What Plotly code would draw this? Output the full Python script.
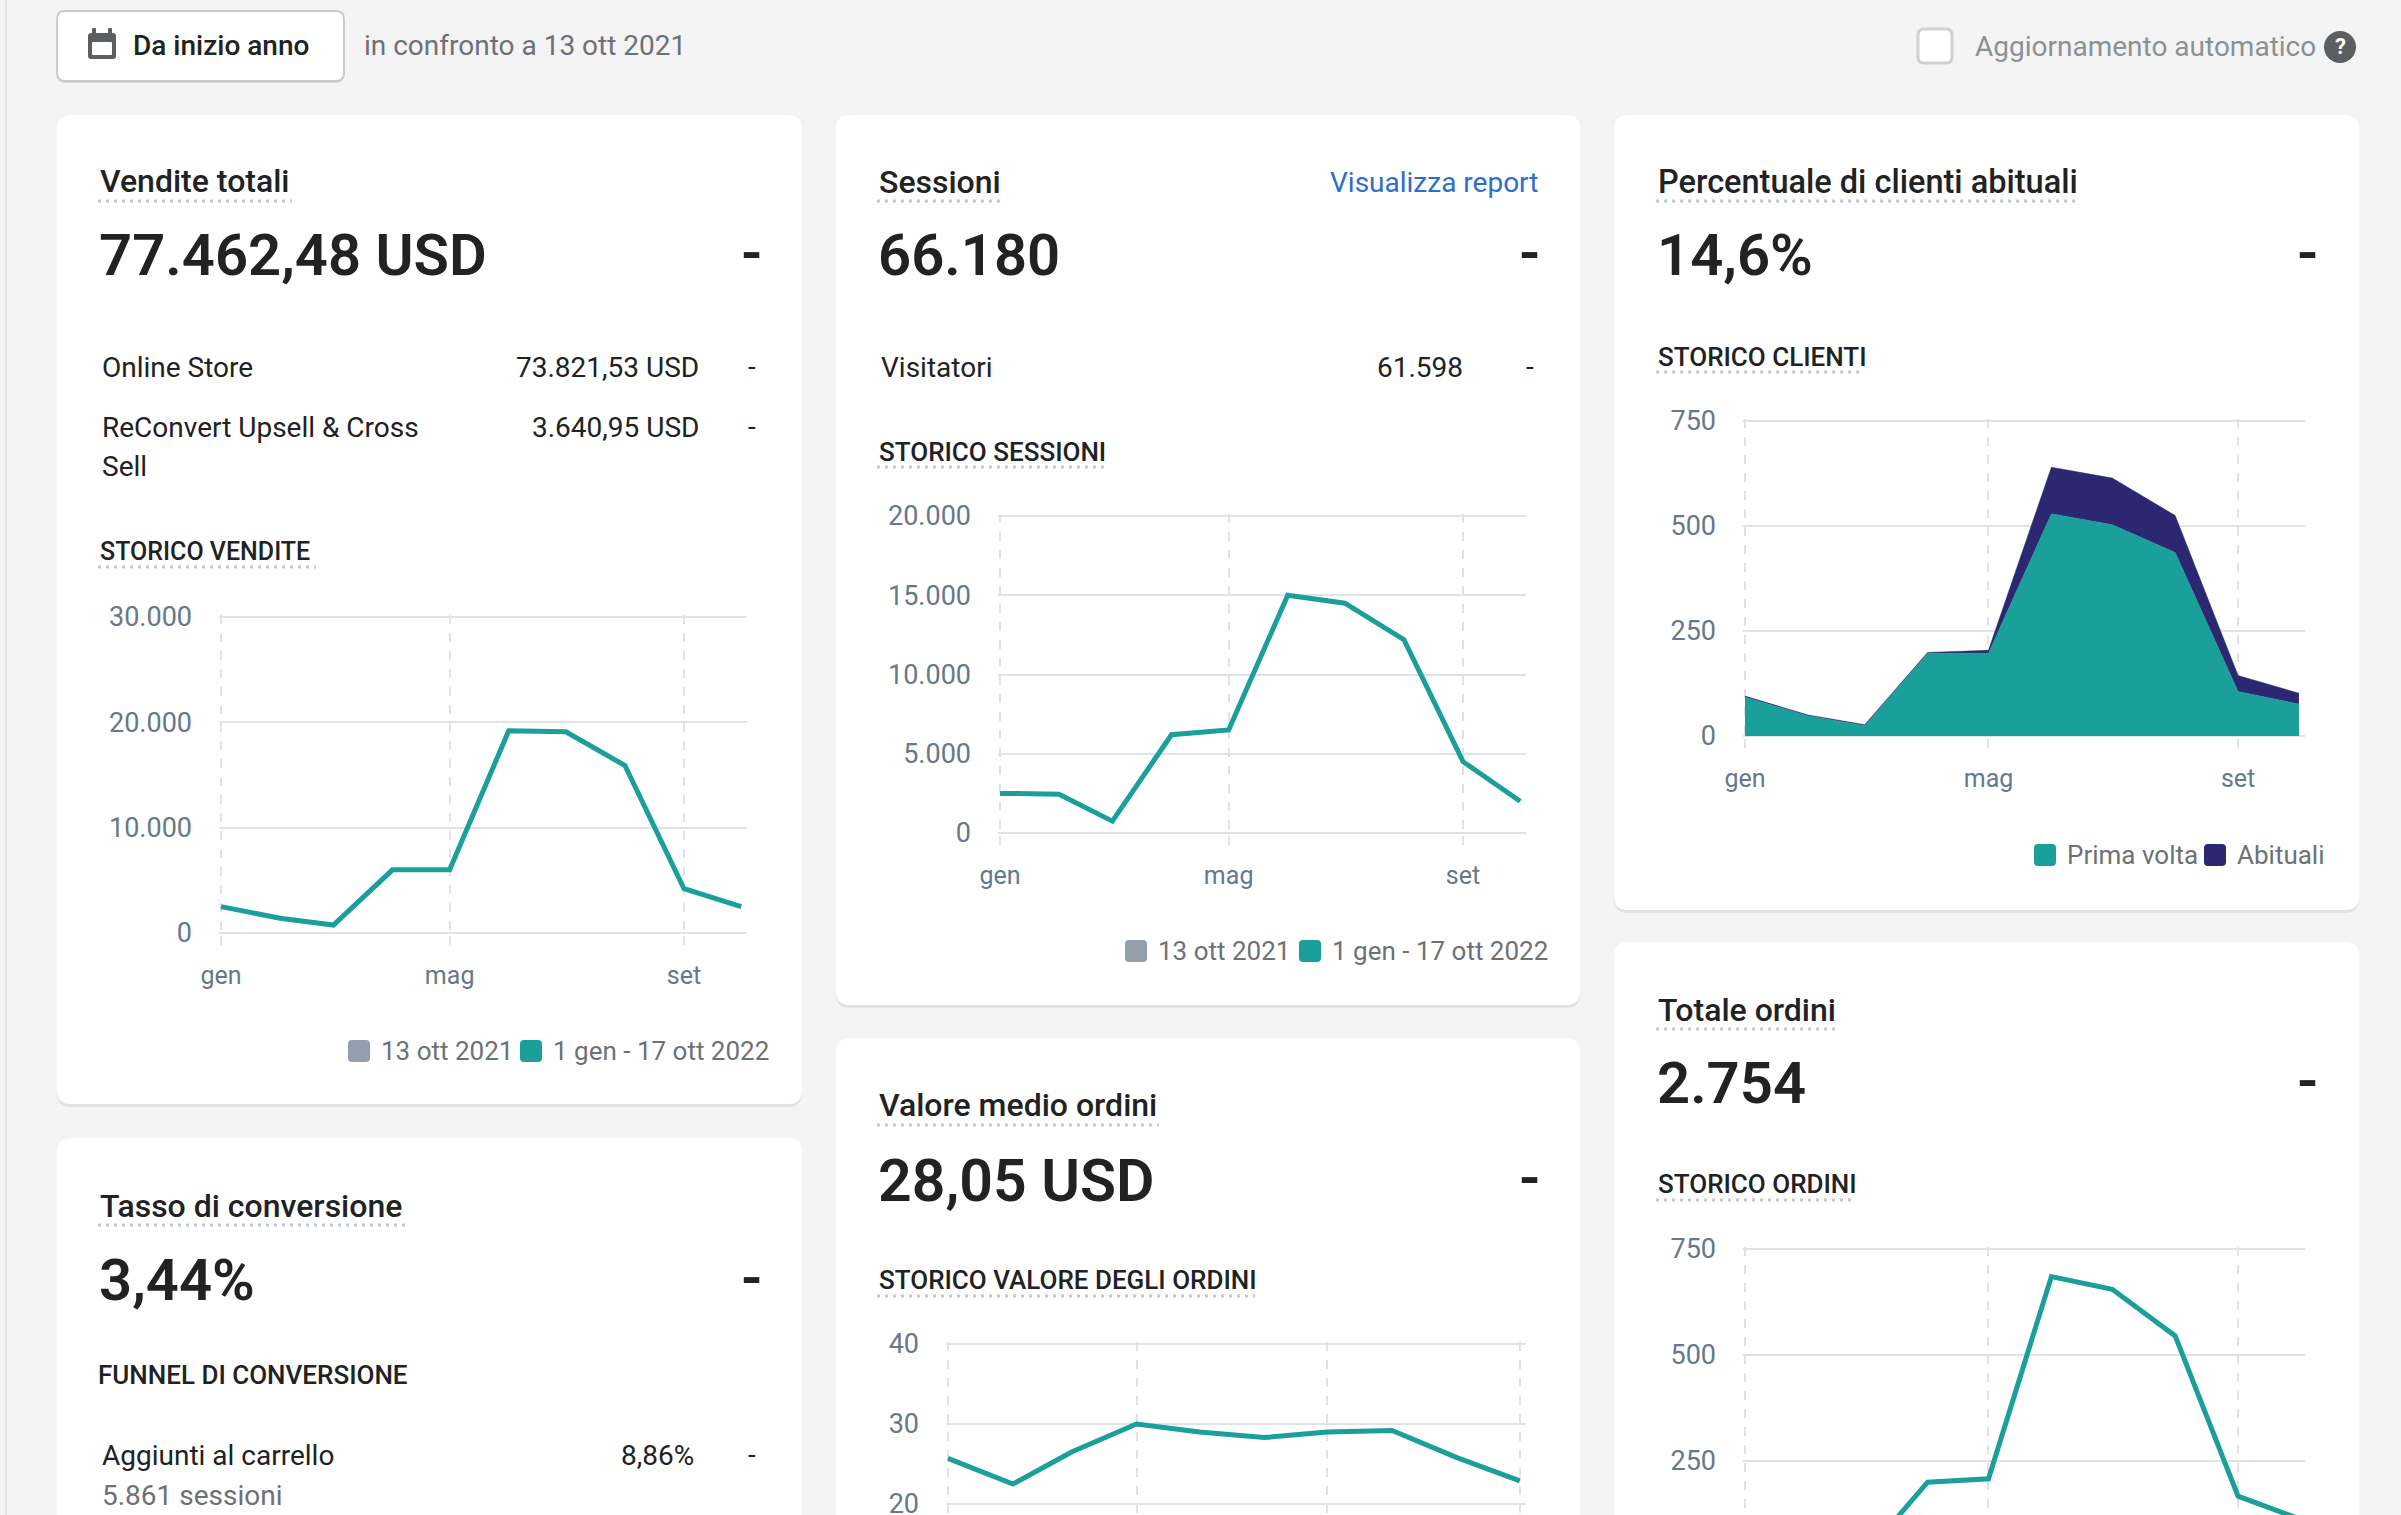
"""
Dashboard panoramica (Shopify analytics) rebuilt with plotly.
"""
from datetime import datetime, timedelta

import plotly.graph_objects as go

W, H = 2401, 1515
FONT = 'Roboto'
BG = '#f4f4f4'
INK = '#202223'
SUB = '#6d7175'
TICK = '#66788a'
GRID = '#dfe3e8'
TEAL = '#1a9f9b'
NAVY = '#2b2770'
GREY_KEY = '#939fad'

# monthly points, 1 gen - 1 ott 2022
months = ['2022-01-01', '2022-02-01', '2022-03-01', '2022-04-01', '2022-05-01',
          '2022-06-01', '2022-07-01', '2022-08-01', '2022-09-01', '2022-10-01']

vendite = [2500, 1400, 750, 6000, 6000, 19200, 19100, 15900, 4200, 2500]
sessioni = [2500, 2450, 750, 6200, 6500, 15000, 14500, 12200, 4500, 2000]
clienti_prima = [93, 48, 25, 197, 197, 529, 503, 437, 106, 76]
clienti_abituali = [2, 2, 2, 2, 7, 111, 111, 88, 38, 26]
valore_medio = [25.7, 22.5, 26.5, 30.0, 29.0, 28.3, 29.0, 29.2, 25.8, 22.9]
ordini = [97, 62, 28, 200, 208, 685, 655, 545, 167, 114]

tick_months = ['2022-01-01', '2022-05-01', '2022-09-01']
tick_labels = ['gen', 'mag', 'set']
tick_months_q = ['2022-01-01', '2022-04-01', '2022-07-01', '2022-10-01']
tick_labels_q = ['gen', 'apr', 'lug', 'ott']

legend_periodi = ['13 ott 2021', '1 gen - 17 ott 2022']
legend_clienti = ['Prima volta', 'Abituali']

X_START = datetime(2022, 1, 1)
X_END = datetime(2022, 10, 3)


def X(p):
    return p / W


def Y(p):
    return 1 - p / H


fig = go.Figure()


def text(s, x, y, size=28, color=INK, weight=400, anchor='left'):
    fig.add_annotation(text=s, x=X(x), y=Y(y), xref='paper', yref='paper',
                       xanchor=anchor, yanchor='middle', showarrow=False,
                       font=dict(family=FONT, size=size, color=color,
                                 weight=weight))


def rrect(x0, y0, x1, y1, r, fill, line=None, lw=0):
    rx, ry = r / W, r / H
    a, b = X(x0), X(x1)
    t, u = Y(y0), Y(y1)
    path = (f'M {a + rx},{t} L {b - rx},{t} Q {b},{t} {b},{t - ry} '
            f'L {b},{u + ry} Q {b},{u} {b - rx},{u} L {a + rx},{u} '
            f'Q {a},{u} {a},{u + ry} L {a},{t - ry} Q {a},{t} {a + rx},{t} Z')
    fig.add_shape(type='path', path=path, xref='paper', yref='paper',
                  fillcolor=fill, line=dict(color=line or fill, width=lw),
                  layer='below')


def dotted(x0, x1, y):
    fig.add_shape(type='line', x0=X(x0), x1=X(x1), y0=Y(y), y1=Y(y),
                  xref='paper', yref='paper', layer='below',
                  line=dict(color='#c1c9d2', width=3, dash='3px,5px'))


def card(x0, y0, x1, y1):
    rrect(x0, y0 + 2, x1, y1 + 3, 14, 'rgba(0,0,0,0.07)')
    rrect(x0, y0, x1, y1, 14, 'white')


def key(x, y, color, label):
    rrect(x, y - 11, x + 22, y + 11, 4, color)
    text(label, x + 31, y, 26, SUB)


def add_axes(n, left, right, top, bottom, lo, hi, ytickvals, xticks, xlabels,
             xlabels_on=True):
    # pixel box of the chart; pad it a little so the edge gridlines survive
    pad = 2
    sfx = '' if n == 1 else str(n)
    days = (X_END - X_START).total_seconds() / 86400
    dpad = timedelta(days=pad * days / (right - left))
    fmt = '%Y-%m-%d %H:%M:%S'
    per_px = (hi - lo) / (bottom - top)
    bpad = pad if bottom < H else 0
    fig.layout['xaxis' + sfx] = dict(
        domain=[X(left - pad), X(right + pad)], anchor='y' + sfx, type='date',
        range=[(X_START - dpad).strftime(fmt), (X_END + dpad).strftime(fmt)],
        tickvals=xticks, ticktext=xlabels, showticklabels=xlabels_on,
        showgrid=True, gridcolor=GRID, gridwidth=2, griddash='dash',
        ticks='outside', ticklen=9, tickwidth=2, tickcolor=GRID,
        ticklabelstandoff=9, tickfont=dict(family=FONT, size=25, color=TICK),
        zeroline=False, showline=False, fixedrange=True, automargin=False)
    fig.layout['yaxis' + sfx] = dict(
        domain=[Y(bottom + bpad), Y(top - pad)], anchor='x' + sfx,
        range=[lo - bpad * per_px, hi + pad * per_px],
        tickvals=ytickvals, tickformat=',', showgrid=True, gridcolor=GRID,
        gridwidth=2, zeroline=False, showline=False, ticks='',
        ticklabelstandoff=26, ticklabeloverflow='allow',
        tickfont=dict(family=FONT, size=27, color=TICK),
        fixedrange=True, automargin=False)


# ---- page chrome
fig.add_shape(type='line', x0=X(6), x1=X(6), y0=0, y1=1, xref='paper',
              yref='paper', line=dict(color='#e1e3e5', width=2), layer='below')

# date button
rrect(57, 13, 344, 83, 8, 'rgba(0,0,0,0.10)')
rrect(57, 11, 344, 81, 8, 'white', '#c9cccf', 2)
rrect(88, 33, 116, 59, 3, '#5c5f62')
rrect(92, 42, 112, 55, 1, 'white')
rrect(92, 28, 96, 36, 1, '#5c5f62')
rrect(108, 28, 112, 36, 1, '#5c5f62')
text('Da inizio anno', 131, 46, 28, INK, 500)
text('in confronto a 13 ott 2021', 362, 46, 28, SUB)

# auto refresh
rrect(1918, 29, 1952, 63, 6, 'white', '#cfd2d5', 3)
text('Aggiornamento automatico', 1973, 47, 28, '#8c9196')
fig.add_shape(type='circle', x0=X(2324), x1=X(2356), y0=Y(63), y1=Y(31),
              xref='paper', yref='paper', fillcolor='#5c5f62',
              line=dict(width=0), layer='below')
text('?', 2340, 47, 22, 'white', 700, 'center')

# ---- cards
card(57, 115, 802, 1104)
card(836, 115, 1580, 1005)
card(1614, 115, 2359, 910)
card(57, 1138, 802, 1560)
card(836, 1038, 1580, 1560)
card(1614, 942, 2359, 1560)

# Vendite totali
text('Vendite totali', 98, 181, 32, INK, 500)
dotted(98, 292, 201)
text('77.462,48 USD', 97, 255, 58, INK, 600)
text('-', 751, 253, 58, INK, 600, 'center')
text('Online Store', 100, 367)
text('73.821,53 USD', 701, 367, anchor='right')
text('-', 752, 366, 28, INK, 400, 'center')
text('ReConvert Upsell & Cross', 100, 427)
text('Sell', 100, 466)
text('3.640,95 USD', 701, 427, anchor='right')
text('-', 752, 426, 28, INK, 400, 'center')
text('STORICO VENDITE', 98, 551, 25, INK, 500)
dotted(98, 316, 567)
key(348, 1051, GREY_KEY, legend_periodi[0])
key(520, 1051, TEAL, legend_periodi[1])

# Sessioni
text('Sessioni', 877, 182, 32, INK, 500)
dotted(877, 1001, 201)
text('Visualizza report', 1540, 182, 28, '#2c6ecb', 400, 'right')
text('66.180', 876, 255, 58, INK, 600)
text('-', 1529, 253, 58, INK, 600, 'center')
text('Visitatori', 879, 367)
text('61.598', 1465, 367, anchor='right')
text('-', 1530, 366, 28, INK, 400, 'center')
text('STORICO SESSIONI', 877, 452, 26, INK, 500)
dotted(877, 1105, 467)
key(1125, 951, GREY_KEY, legend_periodi[0])
key(1299, 951, TEAL, legend_periodi[1])

# Percentuale di clienti abituali
text('Percentuale di clienti abituali', 1656, 182, 32.5, INK, 500)
dotted(1656, 2080, 201)
text('14,6%', 1655, 255, 58, INK, 600)
text('-', 2307, 253, 58, INK, 600, 'center')
text('STORICO CLIENTI', 1656, 357, 26, INK, 500)
dotted(1656, 1864, 372)
key(2034, 855, TEAL, legend_clienti[0])
key(2204, 855, NAVY, legend_clienti[1])

# Tasso di conversione
text('Tasso di conversione', 98, 1206, 32, INK, 500)
dotted(98, 406, 1225)
text('3,44%', 97, 1280, 58, INK, 600)
text('-', 751, 1278, 58, INK, 600, 'center')
text('FUNNEL DI CONVERSIONE', 96, 1375, 26, INK, 500)
text('Aggiunti al carrello', 100, 1455)
text('8,86%', 696, 1455, anchor='right')
text('-', 752, 1454, 28, INK, 400, 'center')
text('5.861 sessioni', 100, 1495, 28, SUB)

# Valore medio ordini
text('Valore medio ordini', 877, 1105, 32, INK, 500)
dotted(877, 1159, 1125)
text('28,05 USD', 876, 1180, 59, INK, 600)
text('-', 1529, 1178, 58, INK, 600, 'center')
text('STORICO VALORE DEGLI ORDINI', 877, 1280, 26, INK, 500)
dotted(877, 1255, 1296)

# Totale ordini
text('Totale ordini', 1656, 1010, 32, INK, 500)
dotted(1656, 1835, 1029)
text('2.754', 1655, 1083, 58, INK, 600)
text('-', 2307, 1081, 58, INK, 600, 'center')
text('STORICO ORDINI', 1656, 1184, 26, INK, 500)
dotted(1656, 1854, 1200)

# ---- charts
add_axes(1, 221, 745, 617, 933, 0, 30000, [0, 10000, 20000, 30000],
         tick_months, tick_labels)
add_axes(2, 1000, 1524, 516, 833, 0, 20000, [0, 5000, 10000, 15000, 20000],
         tick_months, tick_labels)
add_axes(3, 1745, 2303, 421, 736, 0, 750, [0, 250, 500, 750],
         tick_months, tick_labels)
# the two lower charts run past the bottom edge of the page
add_axes(4, 948, 1524, 1344, H, 40 - (H - 1344) / 8.0, 40, [20, 30, 40],
         tick_months_q, tick_labels_q, False)
add_axes(5, 1745, 2303, 1249, H, 750 - (H - 1249) * 500 / 212.0, 750,
         [250, 500, 750], tick_months, tick_labels, False)

line = dict(color=TEAL, width=5)
fig.add_trace(go.Scatter(x=months, y=vendite, mode='lines', line=line,
                         xaxis='x', yaxis='y', hoverinfo='skip'))
fig.add_trace(go.Scatter(x=months, y=sessioni, mode='lines', line=line,
                         xaxis='x2', yaxis='y2', hoverinfo='skip'))
fig.add_trace(go.Scatter(x=months, y=clienti_prima, mode='lines',
                         stackgroup='clienti', fillcolor=TEAL,
                         line=dict(color=TEAL, width=0.5),
                         xaxis='x3', yaxis='y3', hoverinfo='skip'))
fig.add_trace(go.Scatter(x=months, y=clienti_abituali, mode='lines',
                         stackgroup='clienti', fillcolor=NAVY,
                         line=dict(color=NAVY, width=0.5),
                         xaxis='x3', yaxis='y3', hoverinfo='skip'))
fig.add_trace(go.Scatter(x=months, y=valore_medio, mode='lines', line=line,
                         xaxis='x4', yaxis='y4', hoverinfo='skip'))
fig.add_trace(go.Scatter(x=months, y=ordini, mode='lines', line=line,
                         xaxis='x5', yaxis='y5', hoverinfo='skip'))

fig.update_layout(width=W, height=H, margin=dict(l=0, r=0, t=0, b=0),
                  paper_bgcolor=BG, plot_bgcolor='white', showlegend=False,
                  separators=',.', font=dict(family=FONT, color=INK))

# drop the browser's default 8px body margin so the page lines up
fig.write_html('out.html', config={'displayModeBar': False},
               post_script="document.body.style.margin='0';")
